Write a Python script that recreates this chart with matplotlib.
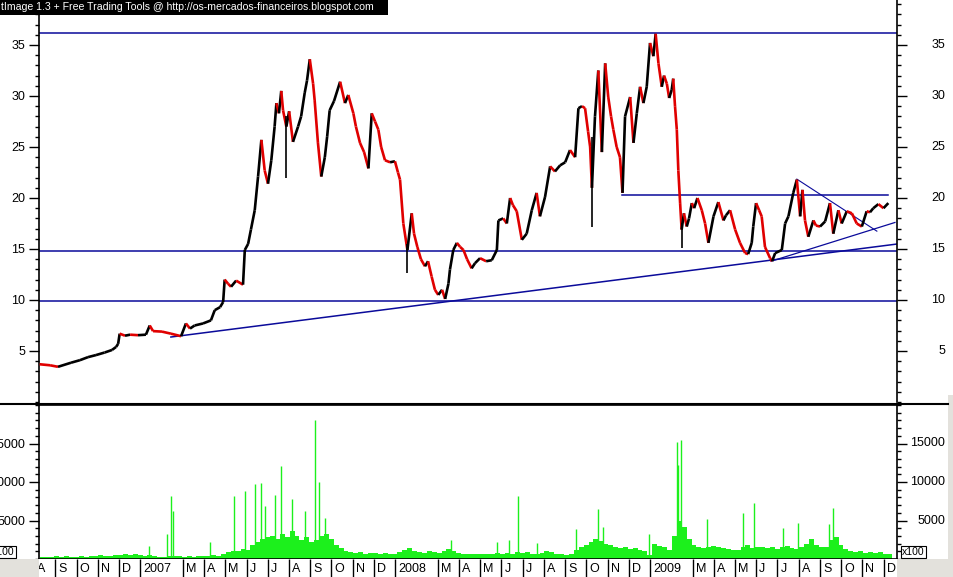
import numpy as np
import matplotlib
matplotlib.use('Agg')
import matplotlib.pyplot as plt
from matplotlib.collections import LineCollection
from matplotlib.patches import Rectangle
from matplotlib.lines import Line2D
import matplotlib.transforms as mtransforms

# ---------------- data ----------------
price_t = [2006.605, 2006.646, 2006.677, 2006.728, 2006.763, 2006.795, 2006.826, 2006.860, 2006.889, 2006.905,
           2006.913, 2006.919, 2006.940, 2006.960, 2006.991, 2007.022, 2007.037, 2007.050, 2007.085, 2007.120,
           2007.160, 2007.179, 2007.195, 2007.213, 2007.246, 2007.277, 2007.292, 2007.313, 2007.325, 2007.331,
           2007.344, 2007.356, 2007.376, 2007.403, 2007.410, 2007.423, 2007.434, 2007.449, 2007.462, 2007.475,
           2007.488, 2007.501, 2007.514, 2007.527, 2007.534, 2007.544, 2007.553, 2007.560, 2007.573, 2007.584,
           2007.599, 2007.619, 2007.631, 2007.645, 2007.654, 2007.665, 2007.678, 2007.684, 2007.697, 2007.710,
           2007.724, 2007.733, 2007.743, 2007.760, 2007.784, 2007.803, 2007.816, 2007.836, 2007.846, 2007.862,
           2007.878, 2007.895, 2007.908, 2007.921, 2007.934, 2007.945, 2007.960, 2007.980, 2007.999, 2008.011,
           2008.019, 2008.032, 2008.048, 2008.065, 2008.074, 2008.087, 2008.101, 2008.117, 2008.129, 2008.143,
           2008.156, 2008.169, 2008.184, 2008.196, 2008.209, 2008.215, 2008.228, 2008.242, 2008.255, 2008.268,
           2008.282, 2008.300, 2008.313, 2008.333, 2008.357, 2008.379, 2008.399, 2008.405, 2008.424, 2008.438,
           2008.451, 2008.462, 2008.477, 2008.497, 2008.516, 2008.536, 2008.555, 2008.568, 2008.588, 2008.608,
           2008.627, 2008.647, 2008.667, 2008.686, 2008.706, 2008.719, 2008.733, 2008.745, 2008.757, 2008.765,
           2008.772, 2008.784, 2008.797, 2008.811, 2008.824, 2008.836, 2008.847, 2008.856, 2008.869, 2008.882,
           2008.892, 2008.902, 2008.922, 2008.935, 2008.948, 2008.961, 2008.974, 2008.987, 2009.000, 2009.013,
           2009.022, 2009.033, 2009.046, 2009.055, 2009.066, 2009.075, 2009.085, 2009.091, 2009.098, 2009.105,
           2009.111, 2009.118, 2009.124, 2009.133, 2009.144, 2009.153, 2009.164, 2009.173, 2009.186, 2009.203,
           2009.216, 2009.229, 2009.249, 2009.268, 2009.288, 2009.298, 2009.314, 2009.334, 2009.353, 2009.373,
           2009.385, 2009.399, 2009.405, 2009.416, 2009.428, 2009.438, 2009.451, 2009.471, 2009.479, 2009.491,
           2009.517, 2009.530, 2009.543, 2009.562, 2009.576, 2009.589, 2009.598, 2009.608, 2009.621, 2009.641,
           2009.651, 2009.667, 2009.687, 2009.706, 2009.719, 2009.739, 2009.752, 2009.772, 2009.792, 2009.811,
           2009.831, 2009.850, 2009.863, 2009.876, 2009.896, 2009.916, 2009.935]
price_v = [3.7, 3.6, 3.45, 3.85, 4.1, 4.4, 4.6, 4.85, 5.1, 5.4,
           5.7, 6.7, 6.5, 6.6, 6.55, 6.6, 7.5, 6.95, 6.9, 6.7,
           6.45, 7.7, 7.2, 7.5, 7.7, 8.0, 9.0, 9.3, 9.8, 12.0,
           11.6, 11.3, 11.9, 11.5, 14.9, 15.5, 16.9, 18.8, 22.1, 25.7,
           22.7, 21.4, 23.7, 27.0, 29.3, 28.3, 30.5, 28.6, 27.0, 28.5,
           25.5, 27.0, 28.0, 30.3, 31.5, 33.6, 31.2, 29.6, 25.4, 22.1,
           24.0, 26.0, 28.6, 29.5, 31.4, 29.3, 30.1, 28.3, 27.0, 25.4,
           24.5, 22.9, 28.3, 27.5, 26.7, 25.0, 23.7, 23.5, 23.6, 22.5,
           21.8, 17.5, 14.9, 18.5, 16.5, 15.2, 14.0, 13.3, 13.8, 12.3,
           11.0, 10.5, 11.0, 10.1, 11.6, 13.0, 14.9, 15.6, 15.2, 14.9,
           14.0, 13.1, 13.6, 14.1, 13.8, 13.9, 14.9, 17.8, 18.0, 17.5,
           20.0, 19.3, 18.7, 15.9, 16.5, 18.8, 20.5, 18.2, 20.1, 23.1,
           22.6, 23.2, 23.5, 24.7, 24.0, 28.8, 29.0, 28.8, 26.5, 25.0,
           21.0, 28.0, 32.5, 24.5, 33.2, 29.9, 28.0, 26.7, 25.0, 24.0,
           20.5, 28.0, 29.9, 25.4, 28.3, 30.9, 29.3, 30.9, 35.2, 33.9,
           36.1, 33.2, 30.9, 32.0, 31.2, 29.8, 30.6, 31.7, 29.0, 26.7,
           22.7, 19.5, 16.9, 18.5, 17.2, 18.0, 19.5, 19.0, 20.0, 18.8,
           17.5, 15.6, 18.2, 19.6, 17.8, 18.3, 18.8, 16.9, 15.6, 14.6,
           14.5, 15.6, 17.2, 19.5, 18.8, 18.2, 15.2, 14.1, 13.8, 14.6,
           14.9, 17.5, 18.2, 20.5, 21.8, 18.2, 20.8, 17.8, 16.2, 17.8,
           17.3, 17.2, 17.7, 19.5, 16.5, 18.8, 17.5, 18.7, 18.5, 17.5,
           17.2, 18.7, 18.6, 19.0, 19.4, 19.0, 19.5]

# single-day ranges that stick out of the line
wick_t = [2008.772, 2008.048, 2009.124, 2007.573]
wick_lo = [17.2, 12.6, 15.1, 22.0]
wick_hi = [26.0, 15.5, 17.5, 28.0]

# horizontal support / resistance levels
hlevels = [36.2, 14.8, 9.9]
mid_level = 20.3
mid_level_t = [2008.891, 2009.934]

# trend lines (t0, v0, t1, v1)
trend_long = [2007.120, 6.37, 2009.973, 15.5]
tri_down = [2009.576, 21.85, 2009.890, 16.75]
tri_up = [2009.475, 13.8, 2009.961, 17.6]

# weekly volume level (x100), first week starting 2006.605
vol_start = 2006.605
vol_week = [250, 300, 200, 350,
            300, 400, 250, 300,
            350, 300, 400, 350,
            500, 450, 400, 550, 500,
            600, 550, 700, 500,
            450, 500, 400, 300,
            300, 350, 400, 350, 300,
            350, 300, 400, 450,
            400, 500, 450, 600,
            900, 1100, 1000, 1300, 1200,
            1800, 2200, 2600, 2800,
            3000, 2600, 3200, 2800, 3600,
            3000, 2500, 2800, 2200,
            2500, 3000, 3200, 2600,
            1800, 1400, 1000, 900,
            800, 900, 700, 800, 750,
            700, 800, 650, 600,
            900, 1200, 1400, 1000,
            900, 800, 1100, 900, 800,
            1000, 1300, 1100, 800,
            700, 600, 700, 650,
            600, 700, 650, 800, 700,
            800, 700, 900, 800,
            900, 700, 600, 800, 1000,
            900, 700, 600, 500,
            700, 1200, 1500, 1800,
            2200, 2600, 2400, 2000, 1800,
            1600, 1400, 1500, 1300,
            1400, 1200, 1100, 500,
            1900, 1700, 1500, 1200,
            3000, 5000, 4200, 2600, 1800,
            1600, 1400, 1500, 1700,
            1500, 1400, 1300, 1200,
            1200, 1500, 1800, 1400, 1600,
            1600, 1400, 1500, 1300,
            1500, 1700, 1400, 1300, 1600,
            2000, 2600, 1800, 1500,
            1600, 2500, 2900, 1800,
            1300, 1100, 900, 1000, 800,
            900, 800, 900, 700,
            600]

spike_t = [2007.033, 2007.106, 2007.119, 2007.129, 2007.275, 2007.369, 2007.410, 2007.449, 2007.475,
           2007.488, 2007.527, 2007.551, 2007.595, 2007.645, 2007.687, 2007.700, 2007.726, 2008.219,
           2008.400, 2008.447, 2008.481, 2008.556, 2008.710, 2008.797, 2008.816, 2008.994, 2009.105,
           2009.111, 2009.121, 2009.223, 2009.364, 2009.409, 2009.522, 2009.580, 2009.701, 2009.716]
spike_v = [1700, 3250, 8200, 6240, 2200, 8200, 8850, 9700, 9850,
           6900, 8300, 12100, 7800, 6250, 18100, 10000, 5300, 2500,
           2250, 2470, 8200, 2050, 3850, 6500, 4200, 3200, 15250,
           12200, 15450, 5150, 5950, 7250, 4000, 4700, 4550, 6600]

month_letters = ['J', 'F', 'M', 'A', 'M', 'J', 'J', 'A', 'S', 'O', 'N', 'D']
years = [2006, 2007, 2008, 2009]

# ---------------- layout ----------------
W, H = 954, 577
fig = plt.figure(figsize=(W / 100, H / 100), dpi=100)
fig.patch.set_facecolor('white')
plt.rcParams['font.family'] = ['Liberation Sans', 'DejaVu Sans']

XL, XR = 39, 897
X0, X1 = 2006.6025, 2009.969


def ax_rect(top, bottom):
    return [XL / W, 1 - bottom / H, (XR - XL) / W, (bottom - top) / H]


BLUE = '#0a0a9a'
RED = '#e00000'
GREEN = '#1cf01c'

# price panel
ax = fig.add_axes(ax_rect(0, 402))
ax.set_xlim(X0, X1)
ax.set_ylim(0, 39.41)
for s in ['top', 'bottom']:
    ax.spines[s].set_visible(False)
ax.spines['left'].set_linewidth(1.2)
ax.spines['right'].set_linewidth(1.2)
ax.set_xticks([])
ax.set_yticks([5, 10, 15, 20, 25, 30, 35])
ax.set_yticks(np.arange(0, 40, 1), minor=True)
ax.tick_params(axis='y', which='major', length=7.5, width=1, direction='out',
               left=True, right=True, labelleft=True, labelright=False, labelsize=9, pad=2.5)
ax.tick_params(axis='y', which='minor', length=3, width=1, direction='out', left=True, right=True)

for lv in hlevels:
    ax.axhline(lv, color=BLUE, lw=1.1, zorder=1)
ax.plot(mid_level_t, [mid_level, mid_level], color=BLUE, lw=1.1, zorder=1)
ax.plot(trend_long[0::2], trend_long[1::2], color=BLUE, lw=1.1, zorder=1)
ax.plot(tri_down[0::2], tri_down[1::2], color=BLUE, lw=0.8, zorder=1)
ax.plot(tri_up[0::2], tri_up[1::2], color=BLUE, lw=0.9, zorder=1)

pt = np.array(price_t)
pv = np.array(price_v)
segs = np.stack([np.column_stack([pt[:-1], pv[:-1]]), np.column_stack([pt[1:], pv[1:]])], axis=1)
cols = ['black' if b >= a else RED for a, b in zip(pv[:-1], pv[1:])]
ax.add_collection(LineCollection(segs, colors=cols, linewidths=1.9, zorder=3, capstyle='butt'))
ax.vlines(wick_t, wick_lo, wick_hi, colors='black', lw=1.2, zorder=3)

tr = ax.get_yaxis_transform()
rx = (945 - XL) / (XR - XL)
for v in [5, 10, 15, 20, 25, 30, 35]:
    ax.text(rx, v, str(v), transform=tr, ha='right', va='center', fontsize=9, clip_on=False)

# volume panel
axv = fig.add_axes(ax_rect(405, 559))
axv.set_xlim(X0, X1)
axv.set_ylim(0, 20000)
for s in axv.spines.values():
    s.set_linewidth(1.2)
axv.set_xticks([])
axv.set_yticks([5000, 10000, 15000])
axv.set_yticks(np.arange(0, 20001, 1000), minor=True)
axv.tick_params(axis='y', which='major', length=7.5, width=1, direction='out',
                left=True, right=True, labelleft=True, labelright=False, labelsize=9, pad=2.5)
axv.tick_params(axis='y', which='minor', length=3, width=1, direction='out', left=True, right=True)
wt = vol_start + np.arange(len(vol_week)) / 52.0
axv.bar(wt, vol_week, width=1 / 52.0, align='edge', color=GREEN, lw=0, zorder=2)
axv.vlines(spike_t, 0, spike_v, colors=GREEN, lw=1.0, zorder=2)
trv = axv.get_yaxis_transform()
for v in [5000, 10000, 15000]:
    axv.text(rx, v, str(v), transform=trv, ha='right', va='center', fontsize=9, clip_on=False)

# month band
axb = fig.add_axes(ax_rect(559, 577))
axb.set_xlim(X0, X1)
axb.set_ylim(0, 1)
axb.set_xticks([])
axb.set_yticks([])
for s in axb.spines.values():
    s.set_visible(False)
off = mtransforms.offset_copy(axb.transData, fig=fig, x=3, y=0, units='dots')
for yr in years:
    for m in range(12):
        pos = yr + m / 12.0
        if pos < 2006.55 or pos > X1:
            continue
        if m == 1:
            continue
        label = str(yr) if m == 0 else month_letters[m]
        axb.vlines(pos, 0, 1, colors='black', lw=1.0)
        axb.text(pos, 0.42, label, transform=off, ha='left', va='center', fontsize=9, clip_on=True)

# frame pieces outside the plot
GRAY = '#e3e1dc'
for (x, y, w, h) in [(0, 559, XL, 18), (XR, 559, W - XR, 18), (948, 395, 6, 182)]:
    fig.patches.append(Rectangle((x / W, 1 - (y + h) / H), w / W, h / H, transform=fig.transFigure,
                                 facecolor=GRAY, edgecolor='none', zorder=0))
fig.lines.append(Line2D([0, 948 / W], [1 - 404 / H, 1 - 404 / H], transform=fig.transFigure,
                        color='black', lw=1.5))

# x100 boxes
box = dict(boxstyle='square,pad=0.12', fc='white', ec='black', lw=0.8)
fig.text(15 / W, 1 - 552 / H, 'x100', ha='right', va='center', fontsize=7.5, bbox=box)
fig.text(902 / W, 1 - 552 / H, 'x100', ha='left', va='center', fontsize=7.5, bbox=box)

# title banner
fig.patches.append(Rectangle((0, 1 - 15 / H), 388 / W, 15 / H, transform=fig.transFigure,
                             facecolor='black', edgecolor='none', zorder=5))
fig.text(1 / W, 1 - 7.5 / H, 'tImage 1.3 + Free Trading Tools @ http://os-mercados-financeiros.blogspot.com',
         color='white', ha='left', va='center', fontsize=7.6, zorder=6)

fig.savefig('out.png', dpi=100)
